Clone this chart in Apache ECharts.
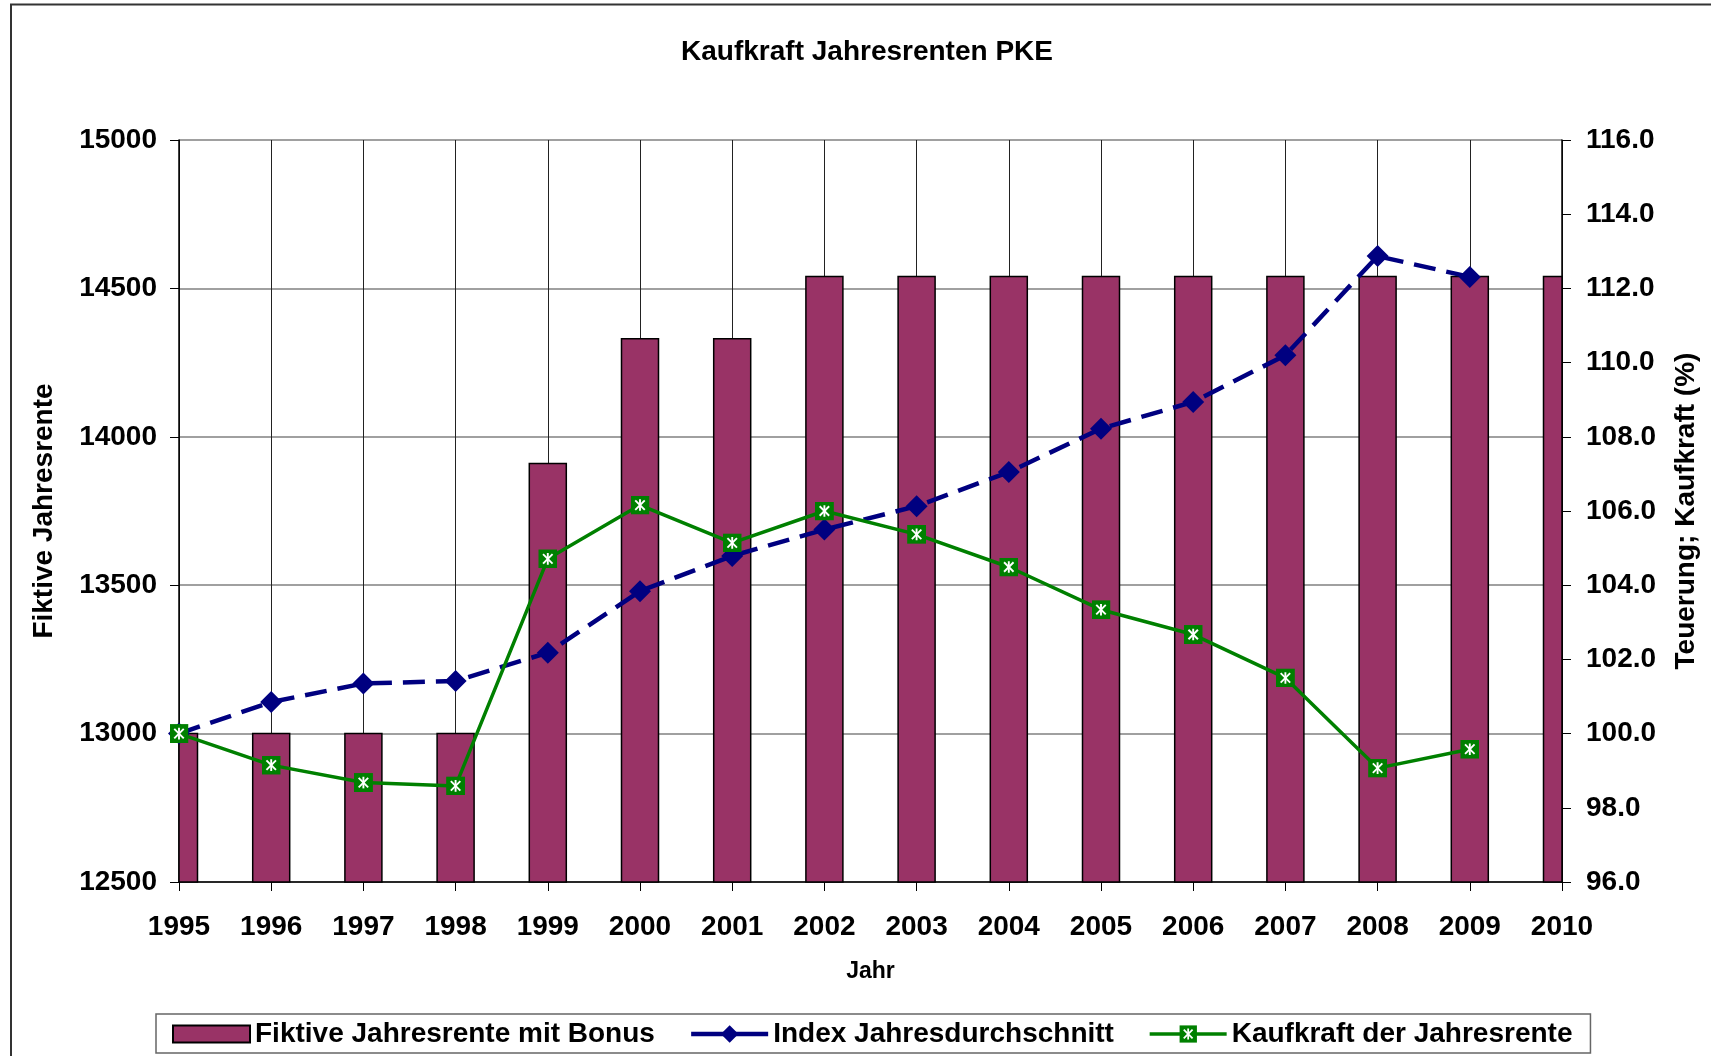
<!DOCTYPE html>
<html>
<head>
<meta charset="utf-8">
<title>Kaufkraft Jahresrenten PKE</title>
<script src="https://cdn.jsdelivr.net/npm/echarts@6/dist/echarts.min.js"></script>
<style>
  html, body { margin: 0; padding: 0; background: #ffffff; }
  #chart { width: 1711px; height: 1056px; }
</style>
</head>
<body>
<div id="chart"></div>
<script>
// values
var years = ["1995", "1996", "1997", "1998", "1999", "2000", "2001", "2002",
  "2003", "2004", "2005", "2006", "2007", "2008", "2009", "2010"];
var renteMitBonus = [13000, 13000, 13000, 13000, 13910, 14330, 14330, 14540,
  14540, 14540, 14540, 14540, 14540, 14540, 14540, 14540];
var indexJahr = [100.0, 100.85, 101.35, 101.42, 102.18, 103.84, 104.79, 105.5,
  106.13, 107.05, 108.22, 108.94, 110.2, 112.87, 112.31, null];
var kaufkraft = [100.0, 99.15, 98.68, 98.59, 104.71, 106.16, 105.14, 106.0,
  105.37, 104.49, 103.34, 102.67, 101.5, 99.07, 99.58, null];

var FONT = "Liberation Sans";
var BAR_COLOR = "#993366";
var BAR_WIDTH = 37;
var Y_MIN = 12500;

// green square with white asterisk (Excel marker)
var starSvg =
  '<svg xmlns="http://www.w3.org/2000/svg" width="18" height="18" viewBox="0 0 18 18">' +
  '<rect x="0" y="0" width="18" height="18" fill="#008000"/>' +
  '<g stroke="#ffffff" stroke-width="1.8">' +
  '<line x1="4.5" y1="4.5" x2="13.5" y2="13.5"/><line x1="13.5" y1="4.5" x2="4.5" y2="13.5"/>' +
  '<line x1="9" y1="3.5" x2="9" y2="14.5"/></g></svg>';
var starSymbol = "image://data:image/svg+xml;charset=utf-8," + encodeURIComponent(starSvg);

// bars sit on the year lines, the first and last one are cut by the plot area
function renderBar(params, api) {
  var top = api.coord([api.value(0), api.value(1)]);
  var base = api.coord([api.value(0), Y_MIN]);
  var rect = echarts.graphic.clipRectByRect(
    {
      x: top[0] - BAR_WIDTH / 2,
      y: top[1],
      width: BAR_WIDTH,
      height: base[1] - top[1]
    },
    {
      x: params.coordSys.x,
      y: params.coordSys.y,
      width: params.coordSys.width,
      height: params.coordSys.height
    }
  );
  if (!rect) return;
  return {
    type: "rect",
    shape: rect,
    style: { fill: BAR_COLOR, stroke: "#000", lineWidth: 1.5 }
  };
}

var barData = renteMitBonus.map(function(v, i) {
  return [i, v];
});

var chart = echarts.init(document.getElementById("chart"));

chart.setOption({
  backgroundColor: "#ffffff",
  animation: false,
  textStyle: { fontFamily: FONT },
  graphic: [
    {
      // outer frame, only top and left edge visible
      type: "rect",
      shape: { x: 11, y: 4.5, width: 1760, height: 1100 },
      style: { fill: "none", stroke: "#333333", lineWidth: 2 },
      silent: true
    }
  ],
  title: {
    text: "Kaufkraft Jahresrenten PKE",
    left: 867,
    textAlign: "center",
    top: 38,
    padding: 0,
    textStyle: { fontFamily: FONT, fontWeight: "bold", fontSize: 28, color: "#000" }
  },
  legend: {
    left: 156,
    top: 1014,
    padding: [6, 18, 5, 16],
    itemGap: 34,
    itemWidth: 77,
    itemHeight: 22,
    borderColor: "#666666",
    borderWidth: 1.5,
    textStyle: { fontFamily: FONT, fontWeight: "bold", fontSize: 28, color: "#000" },
    data: [
      // flat box like the Excel legend key
      { name: "Fiktive Jahresrente mit Bonus", icon: "path://M0 0H77V17H0Z" },
      { name: "Index Jahresdurchschnitt", lineStyle: { type: "solid", width: 4.5 } },
      { name: "Kaufkraft der Jahresrente", lineStyle: { width: 3.5 } }
    ]
  },
  grid: {
    left: 179,
    right: 149,
    top: 140,
    bottom: 174
  },
  xAxis: {
    type: "category",
    data: years,
    boundaryGap: false,
    name: "Jahr",
    nameLocation: "middle",
    nameGap: 78,
    nameTextStyle: { fontFamily: FONT, fontWeight: "bold", fontSize: 23, color: "#000" },
    axisLine: { lineStyle: { color: "#000", width: 1.5 } },
    axisTick: { length: 9, lineStyle: { color: "#000", width: 1 } },
    axisLabel: { margin: 31, fontFamily: FONT, fontWeight: "bold", fontSize: 28, color: "#000" },
    splitLine: { show: true, lineStyle: { color: "#222", width: 1 } }
  },
  yAxis: [
    {
      type: "value",
      min: 12500,
      max: 15000,
      interval: 500,
      name: "Fiktive Jahresrente",
      nameLocation: "middle",
      nameRotate: 90,
      nameGap: 121,
      nameTextStyle: { fontFamily: FONT, fontWeight: "bold", fontSize: 28, color: "#000" },
      axisLine: { show: true, lineStyle: { color: "#000", width: 1.5 } },
      axisTick: { show: true, length: 9, lineStyle: { color: "#000" } },
      axisLabel: {
        margin: 22,
        fontFamily: FONT,
        fontWeight: "bold",
        fontSize: 28,
        color: "#000",
        formatter: function(v) {
          return String(v);
        }
      },
      splitLine: { show: true, lineStyle: { color: "#808080", width: 1.5 } }
    },
    {
      type: "value",
      min: 96,
      max: 116,
      interval: 2,
      position: "right",
      name: "Teuerung; Kaufkraft (%)",
      nameLocation: "middle",
      nameRotate: 90,
      nameGap: 110,
      nameTextStyle: { fontFamily: FONT, fontWeight: "bold", fontSize: 28, color: "#000" },
      axisLine: { show: true, lineStyle: { color: "#000", width: 1.5 } },
      axisTick: { show: true, length: 9, lineStyle: { color: "#000" } },
      axisLabel: {
        margin: 24,
        fontFamily: FONT,
        fontWeight: "bold",
        fontSize: 28,
        color: "#000",
        formatter: function(v) {
          return v.toFixed(1);
        }
      },
      splitLine: { show: false }
    }
  ],
  series: [
    {
      name: "Fiktive Jahresrente mit Bonus",
      type: "custom",
      yAxisIndex: 0,
      data: barData,
      encode: { x: 0, y: 1 },
      renderItem: renderBar,
      itemStyle: { color: BAR_COLOR, borderColor: "#000", borderWidth: 1.5 }
    },
    {
      name: "Index Jahresdurchschnitt",
      type: "line",
      yAxisIndex: 1,
      data: indexJahr,
      symbol: "diamond",
      symbolSize: 22,
      itemStyle: { color: "#000080" },
      lineStyle: { color: "#000080", width: 4.5, type: [22, 11] }
    },
    {
      name: "Kaufkraft der Jahresrente",
      type: "line",
      yAxisIndex: 1,
      data: kaufkraft,
      symbol: starSymbol,
      symbolSize: 19,
      itemStyle: { color: "#008000" },
      lineStyle: { color: "#008000", width: 3.5 }
    }
  ]
});
</script>
</body>
</html>
